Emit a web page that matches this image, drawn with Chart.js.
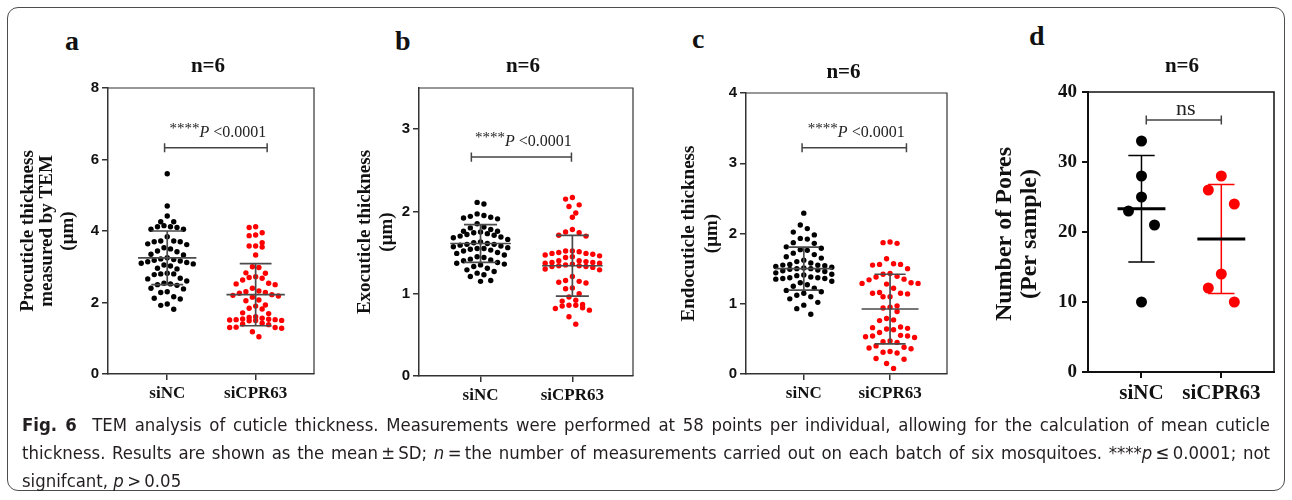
<!DOCTYPE html>
<html>
<head>
<meta charset="utf-8">
<title>Fig. 6 - TEM analysis of cuticle thickness</title>
<script src="https://cdn.jsdelivr.net/npm/chart.js@4.4.1/dist/chart.umd.min.js"></script>
<style>
  html, body { margin: 0; padding: 0; background: #fff; }
  body { position: relative; width: 1292px; height: 500px; overflow: hidden; }
  .box { position: absolute; left: 7px; top: 7px; width: 1278px; height: 484px; border: 1px solid #4d4d4d; border-radius: 11px; box-sizing: border-box; }
  canvas { position: absolute; left: 0; top: 0; }
  .tag { position: absolute; font: bold 28px/28px "Liberation Serif", serif; color: #111; }
  .caption { position: absolute; left: 22px; top: 411px; width: 1248px; font-family: "DejaVu Sans Condensed", "Liberation Sans", sans-serif; font-stretch: condensed; font-size: 18.4px; line-height: 28px; color: #231f20; }
  .caption div { text-align: justify; text-align-last: justify; white-space: nowrap; }
  .caption div.last { text-align-last: left; }
</style>
</head>
<body>
<div class="box"></div>
<div class="tag" style="left:65px;top:27px">a</div>
<div class="tag" style="left:395px;top:27px">b</div>
<div class="tag" style="left:692px;top:25px">c</div>
<div class="tag" style="left:1029px;top:22px">d</div>

<canvas id="chartA" width="1292" height="410"></canvas>
<canvas id="chartB" width="1292" height="410"></canvas>
<canvas id="chartC" width="1292" height="410"></canvas>
<canvas id="chartD" width="1292" height="410"></canvas>

<div class="caption">
  <div><b>Fig. 6</b>&nbsp; TEM analysis of cuticle thickness. Measurements were performed at 58 points per individual, allowing for the calculation of mean cuticle</div>
  <div>thickness. Results are shown as the mean&#8201;±&#8201;SD; <i>n</i>&#8201;=&#8201;the number of measurements carried out on each batch of six mosquitoes. ****<i>p</i>&#8201;≤&#8201;0.0001; not</div>
  <div class="last">signifcant, <i>p</i>&#8201;&gt;&#8201;0.05</div>
</div>

<script>
// groups on the x axis
const groups = ["siNC", "siCPR63"];

// a: procuticle thickness (µm), 58 measurements per group
const procNC = [5.6, 4.7, 4.42, 4.26, 4.26, 4.15, 4.12, 4.12, 4.1, 4.05,
  4.05, 3.84, 3.72, 3.72, 3.7, 3.7, 3.64, 3.62, 3.53, 3.5,
  3.44, 3.42, 3.35, 3.33, 3.25, 3.22, 3.2, 3.18, 3.16, 3.14,
  3.12, 3.1, 3.08, 3.05, 3.02, 2.96, 2.94, 2.82, 2.8, 2.8,
  2.78, 2.68, 2.66, 2.6, 2.54, 2.52, 2.5, 2.48, 2.4, 2.38,
  2.3, 2.28, 2.16, 2.12, 2.1, 1.96, 1.92, 1.81];
const procCPR = [4.12, 4.1, 3.95, 3.89, 3.87, 3.67, 3.58, 3.58, 3.55, 3.33,
  3.0, 2.98, 2.83, 2.82, 2.72, 2.7, 2.68, 2.63, 2.54, 2.52,
  2.5, 2.4, 2.32, 2.3, 2.28, 2.26, 2.22, 2.2, 2.18, 2.15,
  2.07, 2.05, 1.93, 1.9, 1.84, 1.82, 1.71, 1.69, 1.6, 1.58,
  1.56, 1.54, 1.53, 1.52, 1.52, 1.51, 1.5, 1.5, 1.49, 1.42,
  1.4, 1.38, 1.31, 1.3, 1.3, 1.28, 1.18, 1.04];
const procMean = [3.25, 2.22];
const procSD = [0.75, 0.87];
const procTicks = [0, 2, 4, 6, 8];

// b: exocuticle thickness (µm)
const exoNC = [2.11, 2.09, 1.97, 1.95, 1.94, 1.93, 1.92, 1.91, 1.85, 1.81,
  1.8, 1.78, 1.76, 1.76, 1.75, 1.74, 1.73, 1.72, 1.71, 1.7,
  1.69, 1.68, 1.66, 1.63, 1.62, 1.61, 1.6, 1.6, 1.59, 1.58,
  1.57, 1.56, 1.55, 1.55, 1.54, 1.53, 1.52, 1.5, 1.49, 1.47,
  1.45, 1.44, 1.42, 1.41, 1.4, 1.38, 1.37, 1.36, 1.35, 1.33,
  1.31, 1.29, 1.27, 1.25, 1.23, 1.21, 1.16, 1.15];
const exoCPR = [2.17, 2.15, 2.08, 2.06, 1.98, 1.93, 1.78, 1.75, 1.74, 1.71,
  1.7, 1.52, 1.52, 1.51, 1.5, 1.49, 1.49, 1.48, 1.47, 1.46,
  1.45, 1.44, 1.4, 1.4, 1.39, 1.38, 1.38, 1.37, 1.37, 1.36,
  1.35, 1.34, 1.34, 1.33, 1.33, 1.32, 1.3, 1.29, 1.21, 1.16,
  1.15, 1.14, 1.13, 1.07, 1.06, 1.0, 0.96, 0.92, 0.91, 0.87,
  0.86, 0.86, 0.85, 0.83, 0.82, 0.8, 0.72, 0.63];
const exoMean = [1.61, 1.34];
const exoSD = [0.23, 0.37];
const exoTicks = [0, 1, 2, 3];

// c: endocuticle thickness (µm)
const endoNC = [2.29, 2.12, 2.07, 2.02, 1.98, 1.93, 1.92, 1.87, 1.86, 1.81,
  1.79, 1.77, 1.76, 1.72, 1.7, 1.67, 1.65, 1.62, 1.6, 1.58,
  1.56, 1.55, 1.55, 1.54, 1.53, 1.52, 1.51, 1.5, 1.5, 1.49,
  1.48, 1.47, 1.46, 1.44, 1.42, 1.41, 1.4, 1.38, 1.37, 1.37,
  1.36, 1.36, 1.35, 1.32, 1.3, 1.27, 1.25, 1.22, 1.19, 1.17,
  1.15, 1.12, 1.1, 1.07, 1.02, 0.98, 0.93, 0.85];
const endoCPR = [1.88, 1.87, 1.86, 1.64, 1.57, 1.56, 1.56, 1.55, 1.5, 1.43,
  1.42, 1.39, 1.38, 1.35, 1.34, 1.3, 1.29, 1.29, 1.28, 1.22,
  1.16, 1.15, 1.15, 1.14, 1.1, 1.1, 0.97, 0.95, 0.94, 0.89,
  0.79, 0.77, 0.76, 0.67, 0.66, 0.65, 0.64, 0.63, 0.59, 0.55,
  0.54, 0.54, 0.53, 0.52, 0.47, 0.46, 0.45, 0.4, 0.38, 0.37,
  0.36, 0.32, 0.31, 0.3, 0.22, 0.21, 0.15, 0.08];
const endoMean = [1.5, 0.925];
const endoSD = [0.305, 0.495];
const endoTicks = [0, 1, 2, 3, 4];

// d: number of pores per sample
const poresNC = [33, 28, 25, 23, 21, 10];
const poresCPR = [28, 26, 24, 14, 12, 10];
const poresMean = [23.33, 19.0];
const poresSD = [7.6, 7.8];
const poresTicks = [0, 10, 20, 30, 40];

const CANVAS_W = 1292, CANVAS_H = 410, X_AXIS_H = 30;
const SERIF = '"Liberation Serif", "Times New Roman", serif';
const SANS = '"Liberation Sans", Arial, sans-serif';

// lay points of one group out in rows like a GraphPad dot plot
function swarmOffsets(pys, binPx, gapPx, stepPx, maxRow) {
  const idx = pys.map((_, i) => i).sort((a, b) => pys[a] - pys[b]);
  const offs = new Array(pys.length).fill(0);
  let row = [];
  const flush = () => {
    const n = row.length;
    const slots = [];
    for (let k = 0; k < n; k++) slots.push((k - (n - 1) / 2) * stepPx);
    slots.sort((a, b) => Math.abs(a) - Math.abs(b) || a - b);
    row.forEach((i, k) => { offs[i] = slots[k]; });
    row = [];
  };
  idx.forEach(i => {
    if (row.length) {
      const last = row[row.length - 1];
      if (pys[i] - pys[last] >= gapPx || pys[i] - pys[row[0]] >= binPx || row.length >= maxRow) flush();
    }
    row.push(i);
  });
  flush();
  return offs;
}

function meanLines(means, half) {
  const pts = [];
  means.forEach((m, i) => {
    pts.push({x: i + 1 - half, y: m}, {x: i + 1 + half, y: m}, {x: i + 1, y: null});
  });
  return pts;
}

function whisker(i, mean, sd, cap) {
  const c = i + 1, lo = mean - sd, hi = mean + sd;
  return [
    {x: c, y: lo}, {x: c, y: hi}, {x: c, y: null},
    {x: c - cap, y: hi}, {x: c + cap, y: hi}, {x: c, y: null},
    {x: c - cap, y: lo}, {x: c + cap, y: lo}
  ];
}

function bracket(x0, x1, y, h) {
  return [
    {x: x0, y: y - h}, {x: x0, y: y + h}, {x: x0, y: null},
    {x: x0, y: y}, {x: x1, y: y}, {x: x1, y: null},
    {x: x1, y: y - h}, {x: x1, y: y + h}
  ];
}

// titles, rotated axis titles and the significance labels
const panelText = {
  id: "panelText",
  afterDraw(chart, args, o) {
    const {ctx, chartArea: a, scales: {x, y}} = chart;
    ctx.save();
    ctx.fillStyle = "#111";
    ctx.textAlign = "center";
    ctx.textBaseline = "middle";

    // frame: top and right sides
    ctx.strokeStyle = o.frameColor;
    ctx.lineWidth = o.frameWidth;
    ctx.beginPath();
    ctx.moveTo(a.left, a.top);
    ctx.lineTo(a.right, a.top);
    ctx.lineTo(a.right, a.bottom);
    ctx.stroke();

    ctx.font = "bold 21px " + SERIF;
    ctx.fillText(o.title, (a.left + a.right) / 2 + o.titleDx, a.top - o.titleDy);

    ctx.font = o.yTitleFont;
    o.yTitle.forEach((line, i) => {
      ctx.save();
      ctx.translate(a.left - o.yTitleX[i], (a.top + a.bottom) / 2 + o.yTitleDy);
      ctx.rotate(-Math.PI / 2);
      ctx.fillText(line, 0, 0);
      ctx.restore();
    });

    // significance text above the bracket
    ctx.textAlign = "left";
    ctx.textBaseline = "alphabetic";
    ctx.fillStyle = "#222";
    const cx = (x.getPixelForValue(o.sig.x0) + x.getPixelForValue(o.sig.x1)) / 2 + 2;
    const base = y.getPixelForValue(o.sig.y) - o.sig.lift;
    let total = 0;
    o.sig.parts.forEach(p => { ctx.font = p.font; total += ctx.measureText(p.t).width; });
    let tx = cx - total / 2;
    o.sig.parts.forEach(p => {
      ctx.font = p.font;
      ctx.fillText(p.t, tx, base + (p.dy || 0));
      tx += ctx.measureText(p.t).width;
    });
    ctx.restore();
  }
};

const starParts = [
  {t: "****", font: "15px " + SERIF, dy: -4},
  {t: "P", font: "italic 16px " + SERIF},
  {t: " <0.0001", font: "16px " + SERIF}
];

function makePanel(id, p) {
  const a = p.area;
  const datasets = [];

  // error bars
  datasets.push({
    data: meanLines(p.mean, p.meanHalf), showLine: true, pointRadius: 0,
    borderColor: p.meanColor, borderWidth: p.meanWidth, order: p.dotsOnTop ? 2 : 0
  });
  p.mean.forEach((m, i) => datasets.push({
    data: whisker(i, m, p.sd[i], p.capHalf), showLine: true, pointRadius: 0,
    borderColor: p.barColors[i], borderWidth: p.barWidth, order: p.dotsOnTop ? 2 : 0
  }));

  // significance bracket
  const h = p.yMax * 0.016;
  datasets.push({
    data: bracket(p.sig.x0, p.sig.x1, p.sig.y, h), showLine: true, pointRadius: 0,
    borderColor: "#444", borderWidth: 1.5, order: 1
  });

  // individual points
  const dotSets = [];
  p.values.forEach((vals, gi) => {
    dotSets.push(datasets.length);
    datasets.push({
      data: vals.map(v => ({x: gi + 1, y: v})),
      showLine: false, pointRadius: p.dotR, pointBorderWidth: 0,
      pointBackgroundColor: p.dotColors[gi], backgroundColor: p.dotColors[gi],
      order: p.dotsOnTop ? 0 : 1
    });
  });

  const axis = {color: p.axisColor, width: p.axisWidth};
  const chart = new Chart(document.getElementById(id), {
    type: "scatter",
    data: {datasets},
    options: {
      responsive: false,
      animation: false,
      events: [],
      layout: {padding: {
        left: a.left - p.yAxisW, top: a.top,
        right: CANVAS_W - a.right, bottom: CANVAS_H - a.bottom - X_AXIS_H
      }},
      plugins: {
        legend: {display: false},
        tooltip: {enabled: false},
        panelText: {
          title: "n=6", titleDx: p.titleDx, titleDy: p.titleDy,
          yTitle: p.yTitle, yTitleX: p.yTitleX, yTitleDy: p.yTitleDy, yTitleFont: p.yTitleFont,
          sig: p.sig, frameColor: p.axisColor, frameWidth: p.frameWidth
        }
      },
      scales: {
        x: {
          type: "linear", min: 0.33, max: 2.66,
          afterBuildTicks: s => { s.ticks = groups.map((g, i) => ({value: i + 1})); },
          afterFit: s => { s.height = X_AXIS_H; },
          ticks: {callback: (v, i) => groups[i], font: p.xFont, color: "#111", padding: p.xPad, maxRotation: 0, autoSkip: false},
          grid: {drawOnChartArea: false, tickLength: 6, color: axis.color, lineWidth: axis.width},
          border: {display: true, color: axis.color, width: axis.width}
        },
        y: {
          type: "linear", min: 0, max: p.yMax,
          afterBuildTicks: s => { s.ticks = p.yTicks.map(v => ({value: v})); },
          afterFit: s => { s.width = p.yAxisW; },
          ticks: {font: p.yFont, color: "#111", padding: p.yPad},
          grid: {drawOnChartArea: false, tickLength: 6, color: axis.color, lineWidth: axis.width},
          border: {display: true, color: axis.color, width: axis.width}
        }
      }
    },
    plugins: [panelText]
  });

  // spread the dots sideways using the chart's own scales
  const xs = chart.scales.x, ys = chart.scales.y;
  dotSets.forEach((di, gi) => {
    const ds = chart.data.datasets[di];
    const pys = ds.data.map(d => ys.getPixelForValue(d.y));
    const offs = swarmOffsets(pys, p.binPx, p.gapPx, p.stepPx, p.maxRow);
    const cx = xs.getPixelForValue(gi + 1);
    ds.data = ds.data.map((d, i) => ({x: xs.getValueForPixel(cx + offs[i]), y: d.y}));
  });
  chart.update("none");
  return chart;
}

const smallPanel = {
  dotR: 2.7, dotColors: ["#000", "#f00"], dotsOnTop: false,
  meanHalf: 0.33, capHalf: 0.18, meanColor: "#4a4a4a", meanWidth: 1.7,
  barColors: ["#4a4a4a", "#4a4a4a"], barWidth: 1.7,
  axisColor: "#333", axisWidth: 1.5, frameWidth: 1.2,
  yAxisW: 40, yPad: 3, xPad: 3,
  yFont: {family: SANS, weight: "bold", size: 15},
  xFont: {family: SERIF, weight: "bold", size: 17},
  yTitleFont: "bold 19px " + SERIF, yTitleDy: 0,
  titleDx: -3, titleDy: 21,
  binPx: 8, gapPx: 8, stepPx: 6.5, maxRow: 9
};

makePanel("chartA", Object.assign({}, smallPanel, {
  area: {left: 108, top: 88, right: 314, bottom: 374},
  values: [procNC, procCPR], mean: procMean, sd: procSD,
  yMax: 8, yTicks: procTicks,
  yTitle: ["Procuticle thickness", "measured by TEM", "(μm)"], yTitleX: [80, 61, 40],
  sig: {x0: 0.97, x1: 2.13, y: 6.33, lift: 11, parts: starParts}
}));

makePanel("chartB", Object.assign({}, smallPanel, {
  area: {left: 419, top: 88, right: 633, bottom: 376},
  values: [exoNC, exoCPR], mean: exoMean, sd: exoSD,
  yMax: 3.5, yTicks: exoTicks, stepPx: 6.8,
  yTitle: ["Exocuticle thickness", "(μm)"], yTitleX: [54, 32],
  sig: {x0: 0.9, x1: 1.99, y: 2.66, lift: 11, parts: starParts}
}));

makePanel("chartC", Object.assign({}, smallPanel, {
  area: {left: 746, top: 93, right: 947, bottom: 374},
  values: [endoNC, endoCPR], mean: endoMean, sd: endoSD,
  yMax: 4, yTicks: endoTicks, titleDy: 20, binPx: 10, gapPx: 10, stepPx: 7,
  yTitle: ["Endocuticle thickness", "(μm)"], yTitleX: [57, 34],
  sig: {x0: 0.98, x1: 2.19, y: 3.22, lift: 11, parts: starParts}
}));

makePanel("chartD", Object.assign({}, smallPanel, {
  area: {left: 1088, top: 92, right: 1274, bottom: 372},
  values: [poresNC, poresCPR], mean: poresMean, sd: poresSD,
  dotR: 5.5, dotsOnTop: true,
  meanHalf: 0.3, capHalf: 0.165, meanColor: "#000", meanWidth: 3,
  barColors: ["#000", "#f00"], barWidth: 1.5,
  axisColor: "#111", axisWidth: 2, frameWidth: 1.5,
  yMax: 40, yTicks: poresTicks, yAxisW: 48, yPad: 5, xPad: 3,
  yFont: {family: SERIF, weight: "bold", size: 19},
  xFont: {family: SERIF, weight: "bold", size: 21},
  yTitleFont: "bold 24px " + SERIF, titleDx: 1, titleDy: 25,
  yTitle: ["Number of Pores", "(Per sample)"], yTitleX: [83, 58], yTitleDy: 2,
  binPx: 30, gapPx: 15, stepPx: 13, maxRow: 3,
  sig: {x0: 1.06, x1: 2.0, y: 36, lift: 5, parts: [{t: "ns", font: "22px " + SERIF}]}
}));
</script>
</body>
</html>
